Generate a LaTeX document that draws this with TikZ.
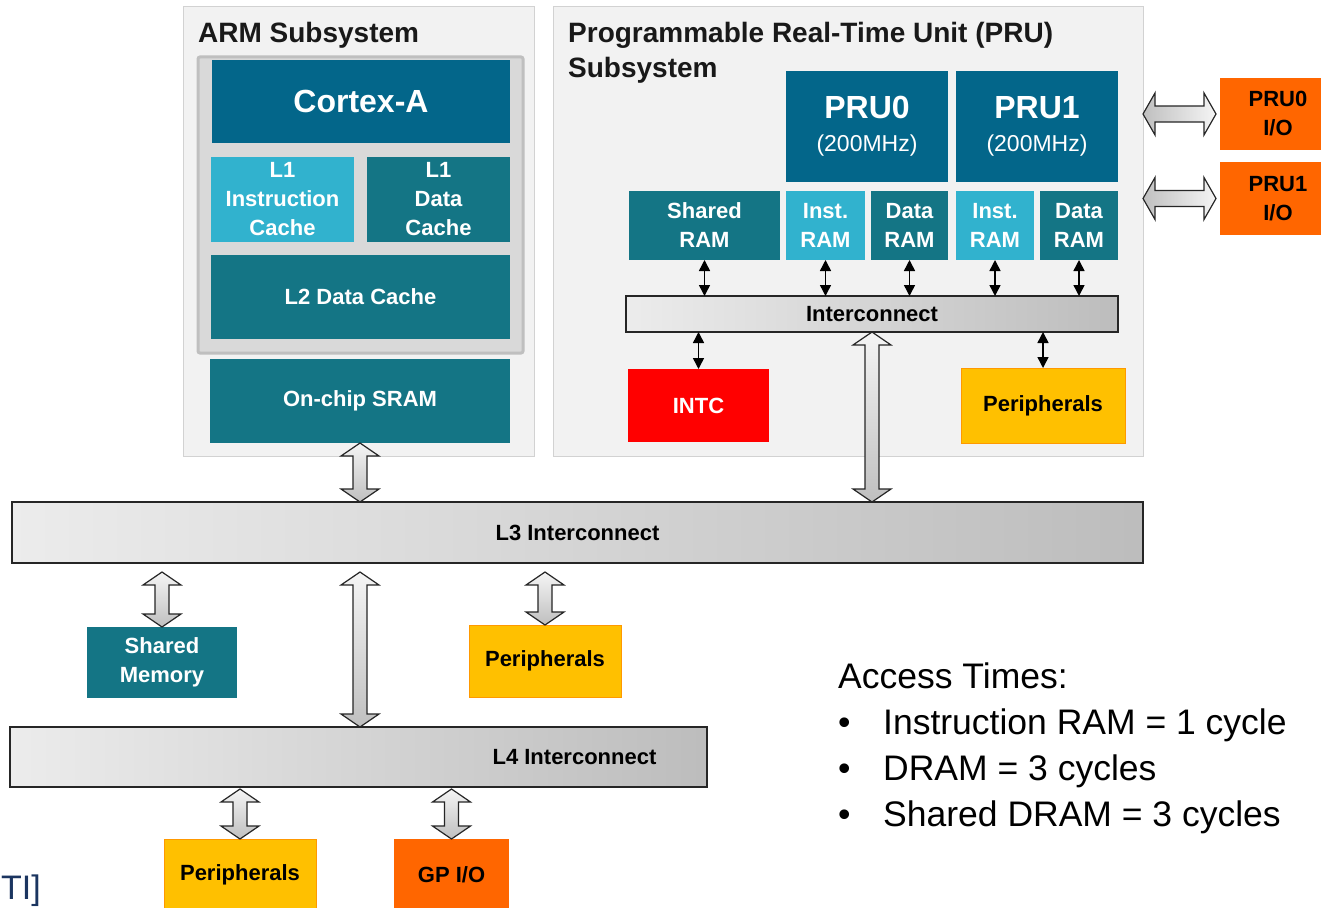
\documentclass[tikz,border=0pt]{standalone}
\usepackage{fontspec}
\setmainfont{Liberation Sans}
\usetikzlibrary{positioning}
\usetikzlibrary{calc}
\usetikzlibrary{arrows.meta}
\definecolor{cdark}{HTML}{03668A}
\definecolor{cteal}{HTML}{147585}
\definecolor{ccyan}{HTML}{31B2CE}
\definecolor{cred}{HTML}{FF0000}
\definecolor{cyel}{HTML}{FFC000}
\definecolor{corange}{HTML}{FF6600}
\definecolor{boxgray}{HTML}{F2F2F2}
\definecolor{coregray}{HTML}{D9D9D9}
\definecolor{tinavy}{HTML}{1B3560}
\tikzset{
  subsys/.style = {draw=gray!35, fill=boxgray, line width=1pt, inner sep=0, outer sep=0},
  core/.style = {draw=gray!50, fill=coregray, line width=3pt, rounded corners=2pt, inner sep=0, outer sep=0},
  blk/.style = {inner sep=0, outer sep=0, align=center, font=\fontsize{22}{29}\selectfont\bfseries},
  cpu/.style = {blk, fill=cdark, text=white},
  mem/.style = {blk, fill=cteal, text=white},
  imem/.style = {blk, fill=ccyan, text=white},
  irq/.style = {blk, fill=cred, text=white},
  periph/.style = {blk, fill=cyel, draw=orange!60!cyel, text=black},
  io/.style = {blk, fill=corange, text=black},
  bus/.style = {blk, draw=black!85, line width=1.5pt, left color=gray!15, right color=gray!52, text=black},
  title/.style = {inner sep=0, text=black!90, font=\fontsize{28}{35}\selectfont\bfseries},
  link/.style = {{Triangle[width=11pt,length=11pt]}-{Triangle[width=11pt,length=11pt]}, line width=1.5pt},
  fat/.style = {draw=black!85, line width=1.2pt, line join=miter}
}
\newcommand{\vfat}[2]{%
  \draw[fat, top color=gray!8, bottom color=gray!50] let \p1=#1, \p2=#2 in
    (\x1,\y1) -- ++(19pt,-13pt) -- ++(-12pt,0pt) -- (\x1+7pt,\y2+13pt) -- ++(12pt,0pt)
    -- (\x1,\y2) -- ++(-19pt,13pt) -- ++(12pt,0pt) -- (\x1-7pt,\y1-13pt) -- ++(-12pt,0pt) -- cycle;}
\newcommand{\hfat}[2]{%
  \draw[fat, left color=gray!50, right color=gray!8] let \p1=#1, \p2=#2 in
    (\x1,\y1) -- ++(12pt,21pt) -- ++(0pt,-13pt) -- (\x2-12pt,\y1+8pt) -- ++(0pt,13pt)
    -- (\x2,\y1) -- ++(-12pt,-21pt) -- ++(0pt,13pt) -- (\x1+12pt,\y1-8pt) -- ++(0pt,-13pt) -- cycle;}

\begin{document}
\begin{tikzpicture}[x=1pt, y=-1pt]
\path[use as bounding box, fill=white] (0,0) rectangle (1321,907);

\node[subsys, minimum width=351, minimum height=449] (arm) at (358.5,231.5) {};
\node[title, anchor=base west] (armt) at (198,43) {ARM Subsystem};
\node[core, minimum width=325, minimum height=296] (core) at (360.5,205) {};
\node[cpu, minimum width=298, minimum height=83, font=\fontsize{32}{38}\selectfont\bfseries] (cortex) at (361,101.5) {Cortex-A};
\node[imem, minimum width=143, minimum height=85] (l1i) at (282.5,199.5) {L1\\Instruction\\Cache};
\node[mem, minimum width=143, minimum height=85] (l1d) at (438.5,199.5) {L1\\Data\\Cache};
\node[mem, minimum width=299, minimum height=84] (l2) at (360.5,297) {L2 Data Cache};
\node[mem, minimum width=300, minimum height=84] (sram) at (360,401) {On-chip SRAM};

\node[subsys, minimum width=590, minimum height=449] (pru) at (848,231.5) {};
\node[title, anchor=north west, align=left] (prut) at (568,22) {Programmable Real-Time Unit (PRU)\\Subsystem};
\node[cpu, minimum width=162, minimum height=111, font=\fontsize{32}{34}\selectfont\bfseries] (pru0) at (867,126.5) {PRU0\\[-1pt]{\mdseries\fontsize{23}{30}\selectfont(200MHz)}};
\node[cpu, minimum width=162, minimum height=111, font=\fontsize{32}{34}\selectfont\bfseries] (pru1) at (1037,126.5) {PRU1\\[-1pt]{\mdseries\fontsize{23}{30}\selectfont(200MHz)}};
\node[mem, minimum width=151, minimum height=69] (shram) at (704.5,225.5) {Shared\\RAM};
\node[imem, minimum width=79, minimum height=69] (iram0) at (825.5,225.5) {Inst.\\RAM};
\node[mem, minimum width=77, minimum height=69] (dram0) at (909.5,225.5) {Data\\RAM};
\node[imem, minimum width=78, minimum height=69] (iram1) at (995,225.5) {Inst.\\RAM};
\node[mem, minimum width=78, minimum height=69] (dram1) at (1079,225.5) {Data\\RAM};
\node[bus, minimum width=492, minimum height=36] (pruic) at (872,314) {Interconnect};
\node[irq, minimum width=141, minimum height=73] (intc) at (698.5,405.5) {INTC};
\node[periph, minimum width=164, minimum height=75] (pper) at (1043,405.5) {Peripherals};
\node[io, minimum width=116, minimum height=72] (pio0) at (1278,114) {PRU0\\I/O};
\node[io, minimum width=116, minimum height=73] (pio1) at (1278,198.5) {PRU1\\I/O};

\node[bus, minimum width=1131, minimum height=61] (l3) at (577.5,532.5) {L3 Interconnect};
\node[mem, minimum width=150, minimum height=71] (shmem) at (162,662.5) {Shared\\Memory};
\node[periph, minimum width=152, minimum height=72] (pmid) at (545,661) {Peripherals};
\node[bus, minimum width=697, minimum height=60] (l4) at (358.5,757) {};
\node[blk] (l4t) at (574.5,757) {L4 Interconnect};
\node[periph, minimum width=152, minimum height=71] (pbot) at (240,874.5) {Peripherals};
\node[io, minimum width=115, minimum height=71] (gpio) at (451.5,874.5) {GP I/O};

\node[anchor=north west, align=left, inner sep=0, font=\fontsize{35.5}{46}\selectfont] (acc) at (838,663)
  {Access Times:\\
   \makebox[45pt][l]{\textbullet}Instruction RAM = 1 cycle\\
   \makebox[45pt][l]{\textbullet}DRAM = 3 cycles\\
   \makebox[45pt][l]{\textbullet}Shared DRAM = 3 cycles};
\node[anchor=base west, inner sep=0, text=tinavy, font=\fontsize{34}{40}\selectfont] (src) at (1,899) {TI]};

\draw[link] (shram.south) -- (shram.south |- pruic.north);
\draw[link] (iram0.south) -- (iram0.south |- pruic.north);
\draw[link] (dram0.south) -- (dram0.south |- pruic.north);
\draw[link] (iram1.south) -- (iram1.south |- pruic.north);
\draw[link] (dram1.south) -- (dram1.south |- pruic.north);
\draw[link] (intc.north) -- (intc.north |- pruic.south);
\draw[link] (pper.north) -- (pper.north |- pruic.south);

\vfat{(sram.south)}{(sram.south |- l3.north)}
\vfat{(pruic.south)}{(pruic.south |- l3.north)}
\vfat{([yshift=-9pt]shmem.north |- l3.south)}{(shmem.north)}
\vfat{([yshift=-9pt]sram.south |- l3.south)}{(sram.south |- l4.north)}
\vfat{([yshift=-9pt]pmid.north |- l3.south)}{(pmid.north)}
\vfat{([yshift=-2pt]pbot.north |- l4.south)}{(pbot.north)}
\vfat{([yshift=-2pt]gpio.north |- l4.south)}{(gpio.north)}
\hfat{(pru.east |- pio0.west)}{([xshift=-4pt]pio0.west)}
\hfat{(pru.east |- pio1.west)}{([xshift=-4pt]pio1.west)}
\end{tikzpicture}
\end{document}
